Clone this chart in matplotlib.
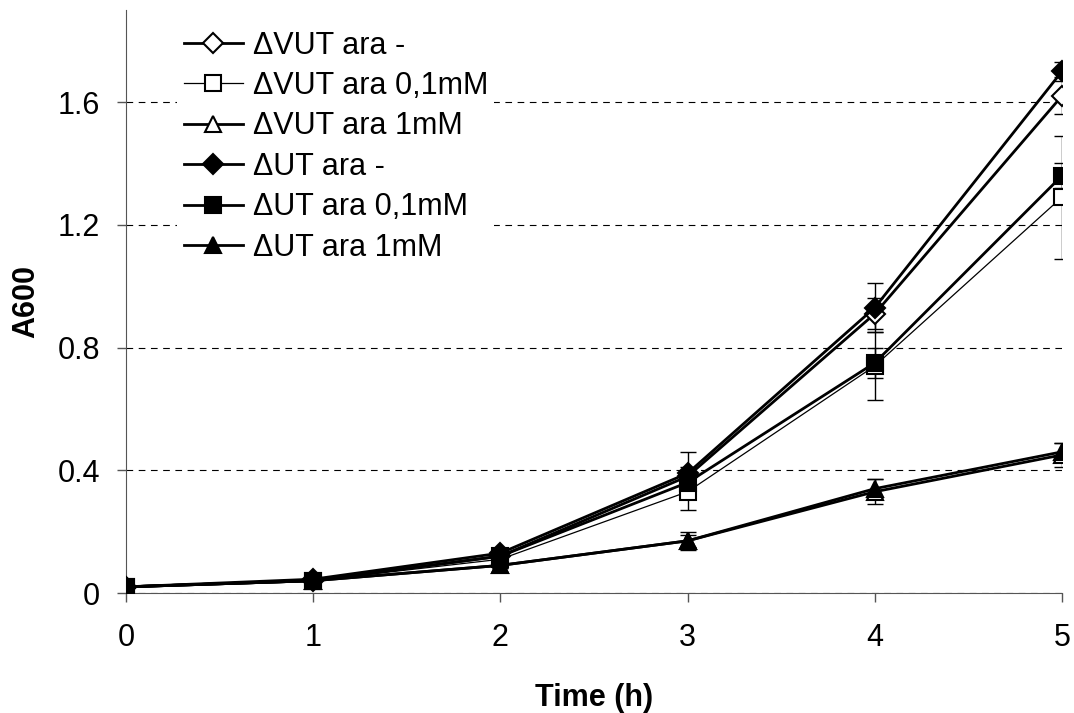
import matplotlib
matplotlib.use("Agg")
import matplotlib.pyplot as plt

plt.rcParams['font.family'] = ['Liberation Sans', 'DejaVu Sans']

time_h = [0, 1, 2, 3, 4, 5]

# A600 readings
vut_minus = [0.02, 0.04, 0.12, 0.38, 0.91, 1.62]
vut_minus_err = [0, 0, 0, 0.03, 0.05, 0.06]
vut_01 = [0.02, 0.04, 0.11, 0.33, 0.74, 1.29]
vut_01_err = [0, 0, 0.01, 0.06, 0.11, 0.20]
vut_1 = [0.02, 0.04, 0.09, 0.17, 0.33, 0.45]
vut_1_err = [0, 0, 0.01, 0.02, 0.04, 0.04]
ut_minus = [0.02, 0.045, 0.13, 0.39, 0.93, 1.70]
ut_minus_err = [0, 0, 0.01, 0.07, 0.08, 0.03]
ut_01 = [0.02, 0.04, 0.12, 0.36, 0.75, 1.36]
ut_01_err = [0, 0, 0.01, 0.03, 0.05, 0.04]
ut_1 = [0.02, 0.04, 0.09, 0.17, 0.34, 0.46]
ut_1_err = [0, 0, 0.01, 0.03, 0.03, 0.03]

labels = ['\u0394VUT ara -', '\u0394VUT ara 0,1mM', '\u0394VUT ara 1mM',
          '\u0394UT ara -', '\u0394UT ara 0,1mM', '\u0394UT ara 1mM']

fig = plt.figure(figsize=(10.74, 7.13), dpi=100)
ax = fig.add_axes([0.1173, 0.1683, 0.8715, 0.8177])

series = [
    (vut_minus, vut_minus_err, 'D', 'white', 2.0, 10),
    (vut_01, vut_01_err, 's', 'white', 0.9, 11),
    (vut_1, vut_1_err, '^', 'white', 2.0, 11),
    (ut_minus, ut_minus_err, 'D', 'black', 2.0, 10),
    (ut_01, ut_01_err, 's', 'black', 2.0, 11),
    (ut_1, ut_1_err, '^', 'black', 2.0, 11),
]

for (vals, errs, mk, fc, lw, ms), lab in zip(series, labels):
    ax.errorbar(time_h, vals, yerr=errs, fmt='none', ecolor='black',
                elinewidth=1, capsize=6, capthick=1, zorder=3)
    ax.plot(time_h, vals, color='black', lw=lw, marker=mk, markersize=ms,
            markerfacecolor=fc, markeredgecolor='black', markeredgewidth=1.5,
            label=lab, zorder=4)

ax.set_xlim(0, 5)
ax.set_ylim(0, 1.9)
ax.set_xticks([0, 1, 2, 3, 4, 5])
ax.set_yticks([0, 0.4, 0.8, 1.2, 1.6])
ax.set_yticklabels(['0', '0.4', '0.8', '1.2', '1.6'])
ax.yaxis.grid(True, linestyle=(0, (6, 5)), color='black', lw=0.8)
ax.set_axisbelow(True)

for s in ['top', 'right']:
    ax.spines[s].set_visible(False)
for s in ['left', 'bottom']:
    ax.spines[s].set_color('#555555')
ax.tick_params(direction='out', length=6.5, width=1, color='#555555',
               labelsize=22)
ax.tick_params(axis='y', pad=12)
ax.tick_params(axis='x', pad=15)

ax.set_xlabel('Time (h)', fontsize=22, fontweight='bold', labelpad=22)
ax.set_ylabel('A600', fontsize=22, fontweight='bold', labelpad=12)

leg = ax.legend(loc='upper left', bbox_to_anchor=(0.055, 0.975), fontsize=22,
                frameon=True, framealpha=1, edgecolor='white',
                handlelength=1.93, handletextpad=0.33, labelspacing=0.34,
                borderpad=0.2, borderaxespad=0)
leg.get_frame().set_linewidth(0)

fig.savefig('out.png', dpi=100)
